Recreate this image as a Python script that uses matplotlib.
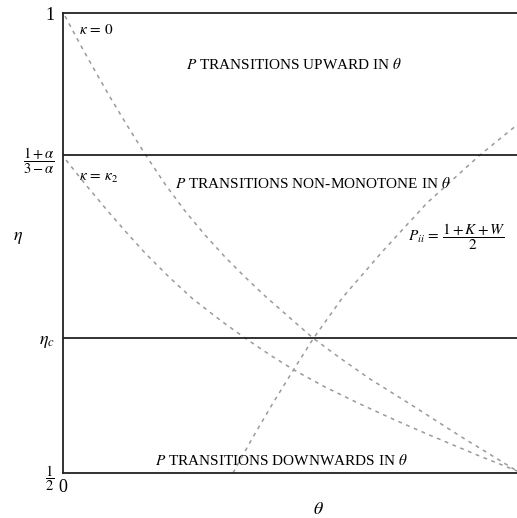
import numpy as np
import matplotlib
matplotlib.use('Agg')
import matplotlib.pyplot as plt

plt.rcParams['font.family'] = ['Liberation Serif', 'DejaVu Serif']
plt.rcParams['mathtext.fontset'] = 'stix'

# threshold levels for eta
eta_hi = 0.8457   # (1+alpha)/(3-alpha)
eta_c = 0.6467

# boundary curves, read as (theta, eta)
k0_theta = [0.0044, 0.0374, 0.0705, 0.1035, 0.1366, 0.1806, 0.2247, 0.2687, 0.3128, 0.3568,
            0.4009, 0.4449, 0.5, 0.5507, 0.6101, 0.6762, 0.7643, 0.8744, 1.0]
k0_eta = [0.9967, 0.9663, 0.9370, 0.9087, 0.8815, 0.8467, 0.8141, 0.7848, 0.7587, 0.7348,
          0.7130, 0.6924, 0.6685, 0.6467, 0.6250, 0.6022, 0.5750, 0.5402, 0.5022]

k2_theta = [0.0066, 0.0507, 0.0947, 0.1388, 0.1828, 0.2357, 0.2863, 0.3458, 0.4009,
            0.4559, 0.5088, 0.5771, 0.6542, 0.7313, 0.8018, 0.9119, 1.0]
k2_eta = [0.8402, 0.8130, 0.7870, 0.7620, 0.7380, 0.7120, 0.6891, 0.6663, 0.6467,
          0.6283, 0.6120, 0.5935, 0.5750, 0.5576, 0.5424, 0.5196, 0.5022]

pii_theta = [0.3744, 0.4185, 0.4626, 0.5088, 0.5507, 0.6167, 0.7026, 0.8018, 0.9185, 1.0]
pii_eta = [0.5, 0.5391, 0.5761, 0.6130, 0.6457, 0.6913, 0.7402, 0.7935, 0.8457, 0.8783]

yticks = [0.5, eta_c, eta_hi, 1.0]
ytick_labels = [r'$\dfrac{1}{2}$', r'$\eta_c$', r'$\dfrac{1+\alpha}{3-\alpha}$', '1']
ytick_sizes = [10.5, 13, 10.5, 13]

fig = plt.figure(figsize=(5.17, 5.18), dpi=100)
ax = fig.add_axes([63/517, 1-473/518, 1-63/517, (473-13)/518])

dash = dict(color='#9a9a9a', lw=1.1, linestyle=(0, (2.5, 3)))
ax.plot(k0_theta, k0_eta, **dash)
ax.plot(k2_theta, k2_eta, **dash)
ax.plot(pii_theta, pii_eta, **dash)

ax.axhline(eta_hi, color='#222222', lw=1.3)
ax.axhline(eta_c, color='#222222', lw=1.3)

ax.set_xlim(0, 1)
ax.set_ylim(0.5, 1)
ax.set_xticks([0])
ax.set_xticklabels(['0'])
ax.set_yticks(yticks)
ax.set_yticklabels(ytick_labels)
ax.tick_params(length=0, labelsize=13, pad=6)
ax.tick_params(axis='x', pad=4)
for lab, sz in zip(ax.get_yticklabels(), ytick_sizes):
    lab.set_fontsize(sz)
for s in ['left', 'bottom', 'top']:
    ax.spines[s].set_linewidth(1.3)
    ax.spines[s].set_color('#222222')
ax.spines['right'].set_visible(False)

ax.text(0.51, 0.9435, r'$P$ TRANSITIONS UPWARD IN $\theta$', ha='center', va='center', fontsize=11)
ax.text(0.551, 0.815, r'$P$ TRANSITIONS NON-MONOTONE IN $\theta$', ha='center', va='center', fontsize=11)
ax.text(0.48, 0.514, r'$P$ TRANSITIONS DOWNWARDS IN $\theta$', ha='center', va='center', fontsize=11)
ax.text(0.035, 0.982, r'$\kappa\,=\,0$', ha='left', va='center', fontsize=11)
ax.text(0.035, 0.820, r'$\kappa\,=\,\kappa_2$', ha='left', va='center', fontsize=11)
ax.text(0.868, 0.7565, r'$P_{ii}\,=\,\dfrac{1+K+W}{2}$', ha='center', va='center', fontsize=11)

fig.text(18/517, 1-238/518, r'$\eta$', ha='center', va='center', fontsize=13)
fig.text(318/517, 1-510/518, r'$\theta$', ha='center', va='center', fontsize=13)

fig.savefig('out.png', dpi=100)
plt.close()
